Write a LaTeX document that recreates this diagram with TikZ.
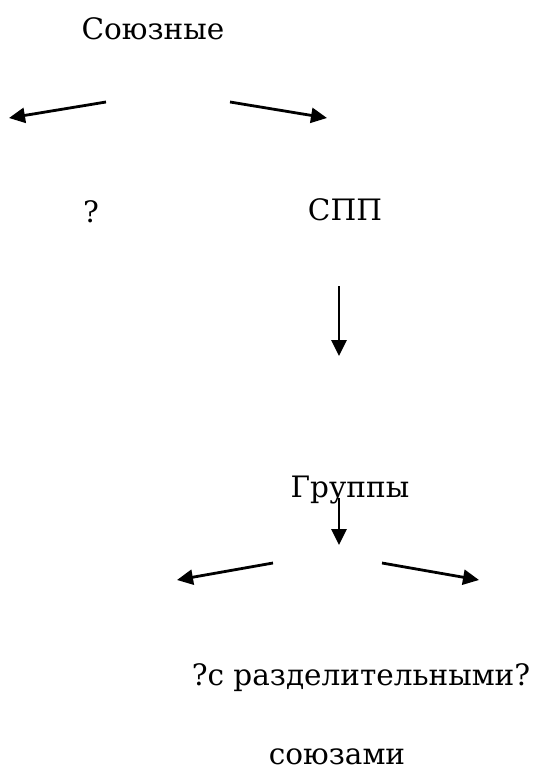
\documentclass[tikz,border=0pt]{standalone}
\usepackage{fontspec}
\setmainfont{DejaVu Serif}
\usepackage{tikz}
\usetikzlibrary{arrows.meta}

\begin{document}
\begin{tikzpicture}[x=1pt, y=-1pt,
  font=\rmfamily\fontsize{29.5}{35}\selectfont,
  lbl/.style={anchor=base, inner sep=0pt},
  arr/.style={line width=2.8pt, -{Triangle[length=16pt, width=15pt]}}]
\useasboundingbox (0, 0) rectangle (538, 771);

\node[lbl] (soyuz) at (153, 39) {Союзные};
\node[lbl] (vopr) at (91, 222) {?};
\node[lbl] (spp) at (345, 220) {СПП};
\node[lbl] (gruppy) at (350, 497) {Группы};
\node[lbl] (razdel) at (361, 685) {?с разделительными?};
\node[lbl] (soyuzami) at (337, 764) {союзами};

\coordinate (a1s) at (106, 102);
\coordinate (a1e) at (9, 118);
\coordinate (a2s) at (230, 102);
\coordinate (a2e) at (327, 118);
\coordinate (a3s) at (339, 286);
\coordinate (a3e) at (339, 356);
\coordinate (a4s) at (339, 498);
\coordinate (a4e) at (339, 545);
\coordinate (a5s) at (273, 563);
\coordinate (a5e) at (177, 580);
\coordinate (a6s) at (382, 563);
\coordinate (a6e) at (479, 580);

\draw[arr] (a1s) -- (a1e);
\draw[arr] (a2s) -- (a2e);
\draw[arr] (a3s) -- (a3e);
\draw[arr] (a4s) -- (a4e);
\draw[arr] (a5s) -- (a5e);
\draw[arr] (a6s) -- (a6e);

\end{tikzpicture}
\end{document}
